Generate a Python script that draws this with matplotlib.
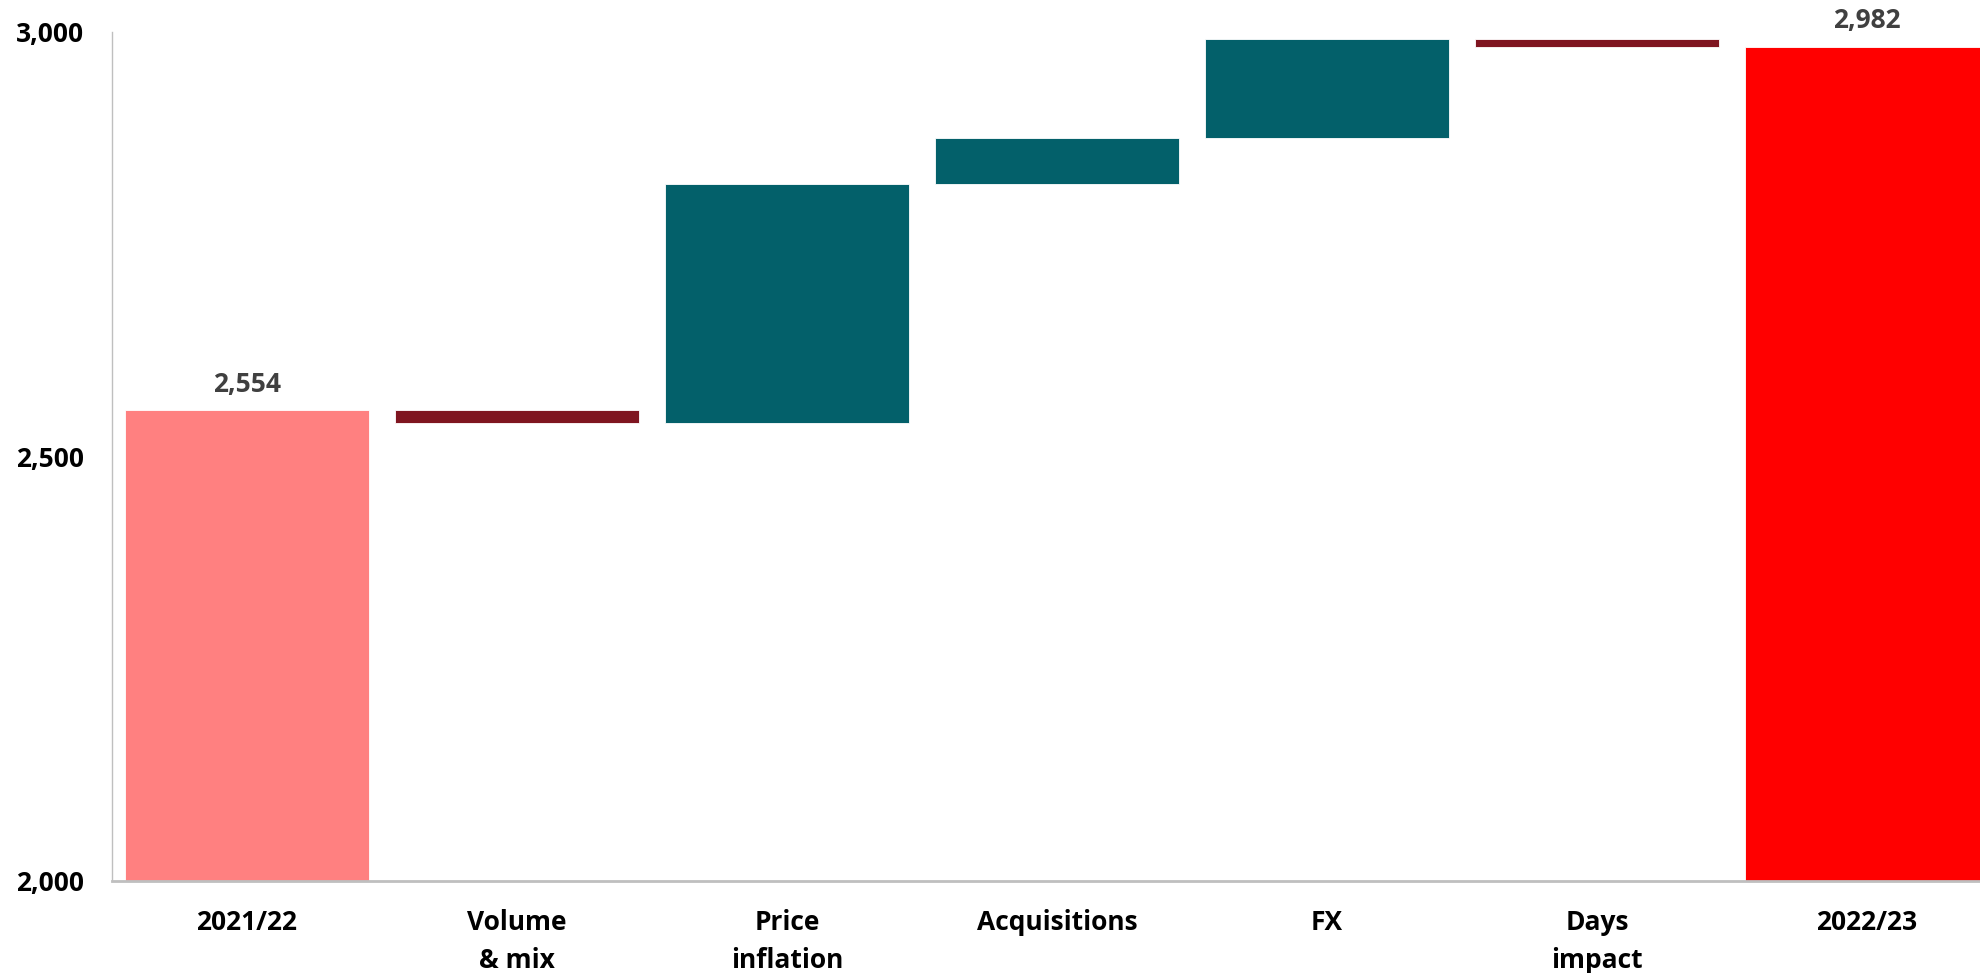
import numpy as np
import matplotlib.pyplot as plt

# Revenue bridge, 2021/22 to 2022/23
categories = ['2021/22', 'Volume\n& mix', 'Price\ninflation', 'Acquisitions',
              'FX', 'Days\nimpact', '2022/23']
start_value = 2554
changes = [-15, 282, 54, 116, -9]
end_value = 2982

plt.rcParams['font.family'] = ['Open Sans', 'DejaVu Sans']

# Build bottoms/heights for the floating bars
steps = np.cumsum([start_value] + changes)
bottoms = [0]
heights = [start_value]
for prev, d in zip(steps[:-1], changes):
    bottoms.append(prev if d >= 0 else prev + d)
    heights.append(abs(d))
bottoms.append(0)
heights.append(end_value)

colors = ['#FF8080'] + ['#03606A' if d >= 0 else '#7F1520' for d in changes] + ['#FF0000']

fig = plt.figure(figsize=(19.8, 9.73), dpi=100)
ax = fig.add_axes([112 / 1980, 1 - 881 / 973, 1890 / 1980, (881 - 31.6) / 973])

x = np.arange(len(categories))
ax.bar(x, heights, bottom=bottoms, width=0.907, color=colors,
       edgecolor='white', linewidth=0.6)

ax.set_xlim(-0.5, len(categories) - 0.5)
ax.set_ylim(2000, 3000)
ax.set_yticks([2000, 2500, 3000])
ax.set_yticklabels([f'{v:,}' for v in [2000, 2500, 3000]])
ax.set_xticks(x)
ax.set_xticklabels(categories, linespacing=1.53)

ax.tick_params(axis='y', length=0, pad=20, labelsize=19)
ax.tick_params(axis='x', length=0, pad=20, labelsize=19)
for lbl in ax.get_xticklabels() + ax.get_yticklabels():
    lbl.set_fontweight('bold')

for side in ['top', 'right']:
    ax.spines[side].set_visible(False)
ax.spines['left'].set_color('#BFBFBF')
ax.spines['left'].set_linewidth(1.0)
ax.spines['bottom'].set_color('#BFBFBF')
ax.spines['bottom'].set_linewidth(2.0)

# Totals above the first and last bars
for xi, val in [(0, start_value), (len(categories) - 1, end_value)]:
    ax.annotate(f'{val:,}', (xi, val), xytext=(0, 9), textcoords='offset points',
                ha='center', va='bottom', fontsize=19, fontweight='bold',
                color='#404040', annotation_clip=False)

fig.savefig('out.png', dpi=100)
